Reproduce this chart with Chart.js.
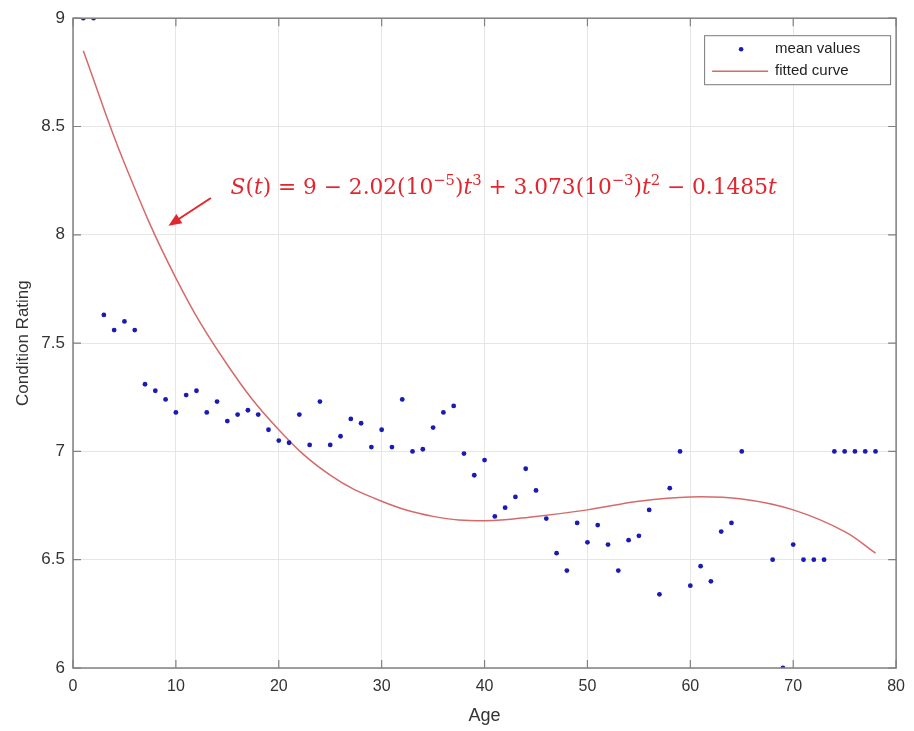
<!DOCTYPE html>
<html>
<head>
<meta charset="utf-8">
<script src="https://cdn.jsdelivr.net/npm/chart.js@4/dist/chart.umd.min.js"></script>
<style>
  html, body { margin: 0; padding: 0; background: #fff; }
  #wrap { width: 914px; height: 731px; }
</style>
</head>
<body>
<div id="wrap"><canvas id="myChart" width="914" height="731"></canvas></div>
<script>
// mean condition rating per age (ages 66 and 67 have no data)
var ages = [1,2,3,4,5,6,7,8,9,10,11,12,13,14,15,16,17,18,19,20,
  21,22,23,24,25,26,27,28,29,30,31,32,33,34,35,36,37,38,39,40,
  41,42,43,44,45,46,47,48,49,50,51,52,53,54,55,56,57,58,59,60,
  61,62,63,64,65,68,69,70,71,72,73,74,75,76,77,78]
var meanValues = [9,9,7.63,7.56,7.60,7.56,7.31,7.28,7.24,7.18,7.26,7.28,7.18,7.23,7.14,7.17,7.19,7.17,7.10,7.05,
  7.04,7.17,7.03,7.23,7.03,7.07,7.15,7.13,7.02,7.10,7.02,7.24,7.00,7.01,7.11,7.18,7.21,6.99,6.89,6.96,
  6.70,6.74,6.79,6.92,6.82,6.69,6.53,6.45,6.67,6.58,6.66,6.57,6.45,6.59,6.61,6.73,6.34,6.83,7.00,6.38,
  6.47,6.40,6.63,6.67,7.00,6.50,6.00,6.57,6.50,6.50,6.50,7.00,7.00,7.00,7.00,7.00]

// fitted curve
var curveAges = [1,5,10,15,20,25,30,35,40,45,50,55,60,65,70,75,78]
var curveValues = [8.85,8.33,7.80,7.40,7.10,6.89,6.77,6.70,6.68,6.70,6.73,6.77,6.79,6.78,6.73,6.63,6.53]

var xTicks = [0,10,20,30,40,50,60,70,80]
var yTicks = [6,6.5,7,7.5,8,8.5,9]

var dotColor = '#1a1ab4'
var curveColor = '#d66a6a'
var axisColor = '#808080'
var textColor = '#333333'
var fontName = '"Liberation Sans", Arial, sans-serif'

function toPoints(xs, ys){
    var out = []
    for (var i = 0; i < xs.length; i++) out.push({x: xs[i], y: ys[i]})
    return out
}

// box frame + inward ticks like matlab
var framePlugin = {
    id: 'frame',
    afterDatasetsDraw: function(chart){
        var ctx = chart.ctx, a = chart.chartArea
        var xs = chart.scales.x, ys = chart.scales.y
        ctx.save()
        ctx.strokeStyle = axisColor
        ctx.lineWidth = 1.5
        ctx.strokeRect(a.left, a.top, a.right - a.left, a.bottom - a.top)
        ctx.lineWidth = 1.2
        ctx.beginPath()
        xTicks.forEach(function(t){
            var px = xs.getPixelForValue(t)
            ctx.moveTo(px, a.bottom); ctx.lineTo(px, a.bottom - 8)
            ctx.moveTo(px, a.top); ctx.lineTo(px, a.top + 8)
        })
        yTicks.forEach(function(t){
            var py = ys.getPixelForValue(t)
            ctx.moveTo(a.left, py); ctx.lineTo(a.left + 8, py)
            ctx.moveTo(a.right, py); ctx.lineTo(a.right - 8, py)
        })
        ctx.stroke()
        ctx.restore()
    }
}

// formula text and arrow
var notePlugin = {
    id: 'note',
    afterDraw: function(chart){
        var ctx = chart.ctx
        var xs = chart.scales.x, ys = chart.scales.y
        var red = '#e2262e'
        ctx.save()
        // arrow
        var x1 = xs.getPixelForValue(13.4), y1 = ys.getPixelForValue(8.17)
        var x2 = xs.getPixelForValue(9.28), y2 = ys.getPixelForValue(8.042)
        var ang = Math.atan2(y2 - y1, x2 - x1)
        ctx.strokeStyle = red
        ctx.fillStyle = red
        ctx.lineWidth = 2
        ctx.beginPath()
        ctx.moveTo(x1, y1)
        ctx.lineTo(x2 - 10 * Math.cos(ang), y2 - 10 * Math.sin(ang))
        ctx.stroke()
        ctx.beginPath()
        ctx.moveTo(x2, y2)
        ctx.lineTo(x2 - 13 * Math.cos(ang) + 5.5 * Math.sin(ang), y2 - 13 * Math.sin(ang) - 5.5 * Math.cos(ang))
        ctx.lineTo(x2 - 13 * Math.cos(ang) - 5.5 * Math.sin(ang), y2 - 13 * Math.sin(ang) + 5.5 * Math.cos(ang))
        ctx.closePath()
        ctx.fill()

        // formula
        var runs = [
            ['S', 'i'], ['(', 'n'], ['t', 'i'], [') = 9 \u2212 2.02(10', 'n'], ['\u22125', 's'], [')', 'n'],
            ['t', 'i'], ['3', 's'], [' + 3.073(10', 'n'], ['\u22123', 's'], [')', 'n'], ['t', 'i'], ['2', 's'],
            [' \u2212 0.1485', 'n'], ['t', 'i']
        ]
        var size = 23
        var serif = '"DejaVu Serif", "Liberation Serif", serif'
        function fontFor(kind, s){
            if (kind == 'i') return 'italic ' + s + 'px ' + serif
            if (kind == 's') return (s * 0.68).toFixed(1) + 'px ' + serif
            return s + 'px ' + serif
        }
        function measure(s){
            var w = 0
            runs.forEach(function(r){ ctx.font = fontFor(r[1], s); w += ctx.measureText(r[0]).width })
            return w
        }
        var startX = xs.getPixelForValue(15.32)
        var endX = xs.getPixelForValue(68.4)
        size = size * (endX - startX) / measure(size)
        var x = startX, base = ys.getPixelForValue(8.189)
        ctx.textBaseline = 'alphabetic'
        runs.forEach(function(r){
            ctx.font = fontFor(r[1], size)
            var yy = r[1] == 's' ? base - size * 0.42 : base
            ctx.fillText(r[0], x, yy)
            x += ctx.measureText(r[0]).width
        })
        ctx.restore()
    }
}

// legend box in the top right corner of the axes
var legendPlugin = {
    id: 'boxLegend',
    afterDraw: function(chart){
        var ctx = chart.ctx, a = chart.chartArea
        var bx = a.right - 192, by = a.top + 17, bw = 186, bh = 49
        ctx.save()
        ctx.fillStyle = '#fff'
        ctx.fillRect(bx, by, bw, bh)
        ctx.strokeStyle = '#7a7a7a'
        ctx.lineWidth = 1
        ctx.strokeRect(bx + 0.5, by + 0.5, bw, bh)
        var rows = [by + 14, by + 36]
        var ds = chart.data.datasets
        ctx.fillStyle = dotColor
        ctx.beginPath()
        ctx.arc(bx + 37, rows[0], 2.3, 0, Math.PI * 2)
        ctx.fill()
        ctx.strokeStyle = curveColor
        ctx.lineWidth = 1.5
        ctx.beginPath()
        ctx.moveTo(bx + 8, rows[1]); ctx.lineTo(bx + 64, rows[1])
        ctx.stroke()
        ctx.fillStyle = '#222'
        ctx.font = '15px ' + fontName
        ctx.textBaseline = 'middle'
        ctx.fillText(ds[0].label, bx + 71, rows[0])
        ctx.fillText(ds[1].label, bx + 71, rows[1])
        ctx.restore()
    }
}

var ctx = document.getElementById('myChart').getContext('2d')
var chart = new Chart(ctx, {
    type: 'scatter',
    data: {
        datasets: [{
            label: 'mean values',
            data: toPoints(ages, meanValues),
            backgroundColor: dotColor,
            borderColor: dotColor,
            pointRadius: 2.4,
            borderWidth: 0,
            showLine: false,
            order: 1
        }, {
            label: 'fitted curve',
            data: toPoints(curveAges, curveValues),
            showLine: true,
            borderColor: curveColor,
            borderWidth: 1.5,
            pointRadius: 0,
            tension: 0.4,
            order: 2
        }]
    },
    options: {
        responsive: false,
        animation: false,
        layout: { padding: { top: 15, right: 14, left: 0, bottom: 0 } },
        plugins: {
            legend: { display: false },
            tooltip: { enabled: false }
        },
        scales: {
            x: {
                type: 'linear',
                min: 0, max: 80,
                afterBuildTicks: function(s){ s.ticks = xTicks.map(function(v){ return {value: v} }) },
                afterFit: function(s){ s.height = 63 },
                grid: { color: '#e6e6e6', drawTicks: false },
                border: { display: false },
                ticks: { color: textColor, padding: 9, font: { family: fontName, size: 16 } },
                title: { display: true, text: 'Age', color: textColor, padding: { top: 0, bottom: 4 },
                    font: { family: fontName, size: 18 } }
            },
            y: {
                type: 'linear',
                min: 6, max: 9,
                afterBuildTicks: function(s){ s.ticks = yTicks.map(function(v){ return {value: v} }) },
                afterFit: function(s){ s.width = 73 },
                grid: { color: '#e6e6e6', drawTicks: false },
                border: { display: false },
                ticks: {
                    color: textColor, padding: 8, font: { family: fontName, size: 17 },
                    callback: function(v){ return String(v) }
                },
                title: { display: true, text: 'Condition Rating', color: textColor, padding: { top: 13, bottom: 0 },
                    font: { family: fontName, size: 17 } }
            }
        }
    },
    plugins: [framePlugin, notePlugin, legendPlugin]
})
</script>
</body>
</html>
